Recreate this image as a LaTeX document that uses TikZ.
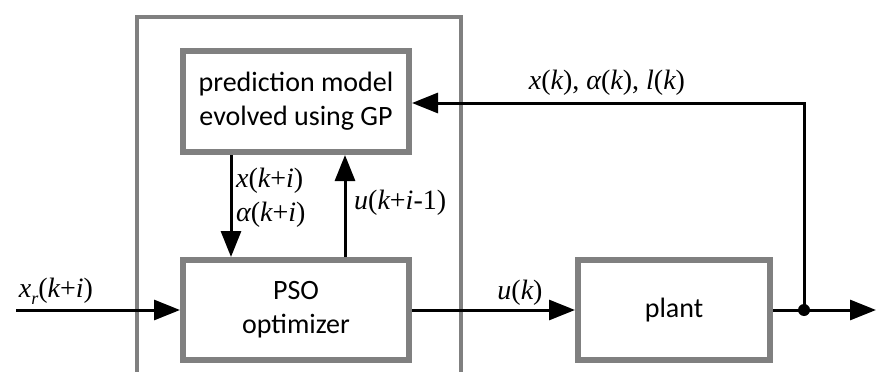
\documentclass[tikz,border=0pt]{standalone}
\usepackage{fontspec}
\setmainfont{Liberation Serif}
\newfontfamily\boxfont{Carlito}
\newfontfamily\lblfont{Liberation Serif}[UprightFont={* Italic}]
\newfontfamily\lblup{Liberation Serif}
\usetikzlibrary{arrows.meta}
\definecolor{boxgray}{RGB}{128,128,128}
\newcommand{\vi}[1]{{\lblfont #1}}
\newcommand{\vu}[1]{{\lblup #1}}
\begin{document}
\begin{tikzpicture}[x=1pt,y=-1pt,
  blk/.style={draw=boxgray, line width=6pt, fill=white, inner sep=0pt,
    font=\boxfont\fontsize{28}{34}\selectfont, align=center},
  conn/.style={line width=3pt, -{Triangle[length=26pt,width=20pt]}},
  lbl/.style={font=\lblup\fontsize{28}{34}\selectfont, inner sep=0pt}]
\useasboundingbox (0,0) rectangle (876,372);
\clip (0,0) rectangle (876,372);
% outer controller frame
\draw[boxgray, line width=4pt] (137,400) -- (137,17) -- (461,17) -- (461,400);
% blocks
\node[blk, minimum width=226pt, minimum height=101pt] (pred) at (296,101.5) {prediction model\\evolved using GP};
\node[blk, minimum width=226pt, minimum height=100pt] (pso) at (296,310) {PSO\\optimizer};
\node[blk, minimum width=192pt, minimum height=100pt] (plant) at (674,310) {plant};
% coordinates
\coordinate (in) at (16,310);
\coordinate (dot) at (804,310);
\coordinate (out) at (876,310);
\coordinate (fbtop) at (804,103);
% connectors
\draw[conn] (in) -- (pso.west);
\draw[conn] (pso.east) -- (plant.west);
\draw[line width=3pt] (plant.east) -- (dot);
\draw[conn] (dot) -- (out);
\draw[conn] (dot) -- (fbtop) -- (pred.east |- fbtop);
\draw[conn] ([xshift=-65pt]pred.south) -- ([xshift=-65pt]pso.north);
\draw[conn] ([xshift=49pt]pso.north) -- ([xshift=49pt]pred.south);
\fill (dot) circle (6pt);
% labels
\node[lbl] (lxr) at (56,291) {\vi{x}\raisebox{-0.25em}{\fontsize{18}{20}\selectfont\vi{r}}(\vi{k}+\vi{i})};
\node[lbl, anchor=west] (lx) at (236,181) {\vi{x}(\vi{k}+\vi{i})};
\node[lbl, anchor=west] (la) at (236,215) {\vi{α}(\vi{k}+\vi{i})};
\node[lbl, anchor=west] (lu) at (354,203) {\vi{u}(\vi{k}+\vi{i}-1)};
\node[lbl] (luk) at (520,293) {\vi{u}(\vi{k})};
\node[lbl] (lfb) at (607,83) {\vi{x}(\vi{k}), \vi{α}(\vi{k}), \vi{l}(\vi{k})};
\end{tikzpicture}
\end{document}
